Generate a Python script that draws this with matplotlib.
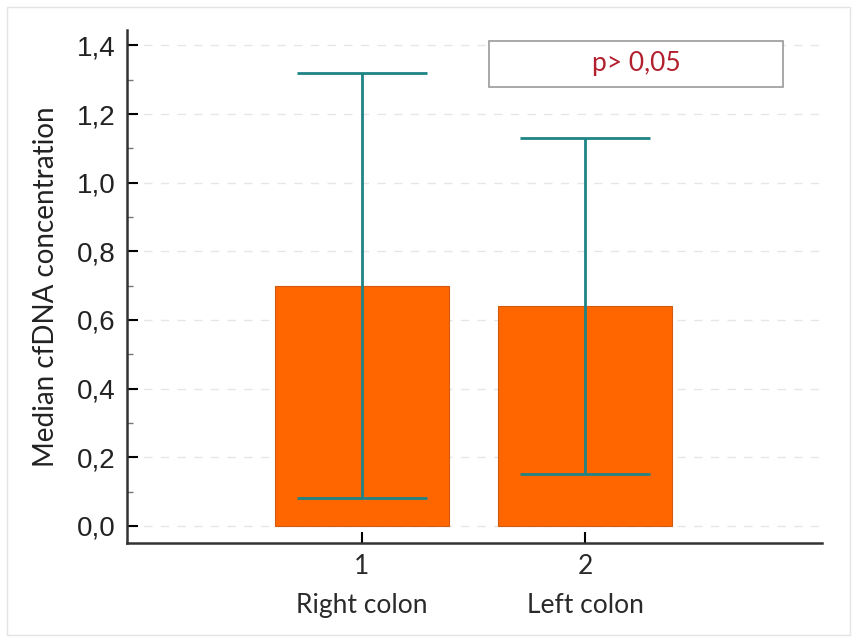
import matplotlib
matplotlib.use("Agg")
import matplotlib.pyplot as plt
from matplotlib.ticker import MultipleLocator, FuncFormatter
from matplotlib.patches import Rectangle

groups = [1, 2]
group_names = ["Right colon", "Left colon"]
medians = [0.70, 0.64]
err_low = [0.08, 0.15]
err_high = [1.32, 1.13]
p_text = "p> 0,05"

fig = plt.figure(figsize=(8.57, 6.42), dpi=100)
ax = fig.add_axes([127/857, 1 - 543/642, (822-127)/857, (543-30)/642])

ax.bar(groups, medians, width=0.78, color="#ff6600", edgecolor="#d05a10", linewidth=0.8, zorder=2)
lower = [m - lo for m, lo in zip(medians, err_low)]
upper = [hi - m for m, hi in zip(medians, err_high)]
ax.errorbar(groups, medians, yerr=[lower, upper], fmt="none", ecolor="#1e8486",
            elinewidth=2, capsize=47, capthick=2, zorder=3)

ax.set_xlim(-0.054, 3.063)
ax.set_ylim(-0.05, 1.445)

ax.yaxis.set_major_locator(MultipleLocator(0.2))
ax.yaxis.set_minor_locator(MultipleLocator(0.1))
ax.yaxis.set_major_formatter(FuncFormatter(lambda v, p: f"{v:.1f}".replace(".", ",")))
ax.set_xticks(groups)
ax.set_xticklabels([f"{g}\n{n}" for g, n in zip(groups, group_names)],
                   fontfamily="Lato", fontsize=19, color="#2a2a2a", linespacing=1.7)

for lab in ax.get_yticklabels():
    lab.set_fontfamily("Liberation Sans")
    lab.set_fontsize(20)
    lab.set_color("#222222")

ax.tick_params(axis="y", which="major", direction="in", length=8, width=1.5, pad=8)
ax.tick_params(axis="y", which="minor", direction="in", length=4, width=1, color="#777777")
ax.tick_params(axis="x", which="major", direction="in", length=8, width=1.5, pad=8)

for s in ["top", "right"]:
    ax.spines[s].set_visible(False)
for s in ["left", "bottom"]:
    ax.spines[s].set_linewidth(1.8)
    ax.spines[s].set_color("#333333")

ax.grid(axis="y", which="major", linestyle=(0, (6, 6)), color="#e6e6e6", linewidth=1, zorder=0)
ax.set_axisbelow(True)

ax.set_ylabel("Median cfDNA concentration", fontfamily="Lato", fontsize=20,
              color="#222222", labelpad=13)

box = Rectangle((1.57, 1.278), 1.32, 0.136, facecolor="white", edgecolor="#999999",
                linewidth=1.2, zorder=4)
ax.add_patch(box)
ax.text(1.57 + 0.66, 1.346, p_text, ha="center", va="center", fontfamily="Lato",
        fontsize=19, color="#b21f2d", zorder=5)

fig.patches.append(Rectangle((7/857, 7/642), 1 - 14/857, 1 - 14/642, transform=fig.transFigure,
                             fill=False, edgecolor="#e4e4e4", linewidth=1))

fig.savefig("out.png", dpi=100)
